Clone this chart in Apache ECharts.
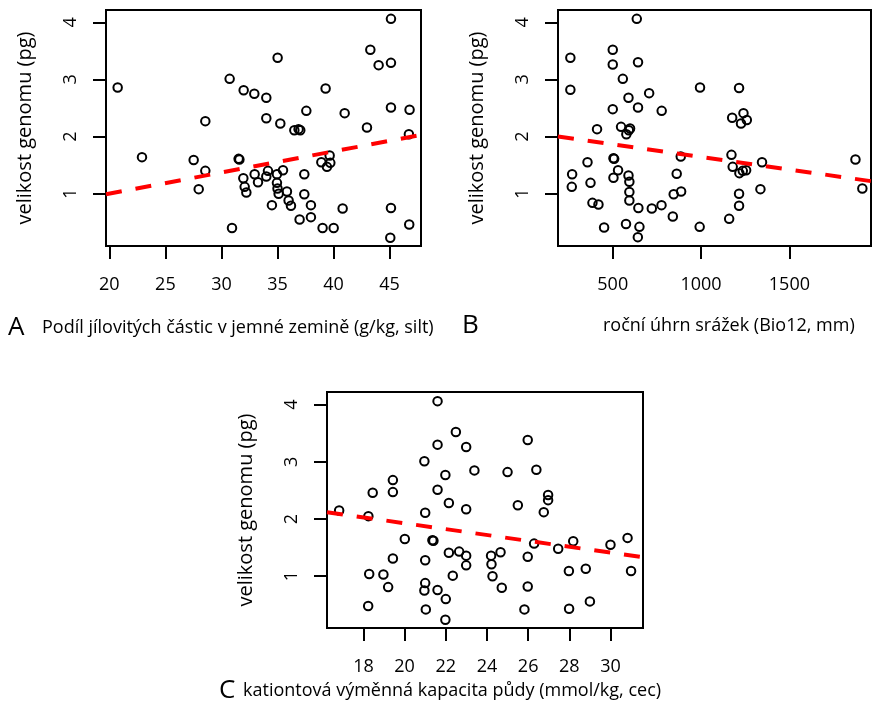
<!DOCTYPE html>
<html>
<head>
<meta charset="utf-8">
<script src="https://cdn.jsdelivr.net/npm/echarts@6/dist/echarts.min.js"></script>
<style>
  html, body { margin: 0; padding: 0; background: #fff; }
  #chart { width: 872px; height: 715px; }
</style>
</head>
<body>
<div id="chart"></div>
<script>
// Genome size (pg) against three environmental predictors.
const genomeTicks = [1, 2, 3, 4];

// A: clay particle share in fine soil (g/kg, silt)
const clayTicks = [20, 25, 30, 35, 40, 45];
const clayX = [20.74, 22.91, 27.52, 27.97, 28.56, 28.56, 30.73, 30.94, 31.53, 31.60,
  31.98, 31.95, 32.07, 32.22, 32.93, 32.96, 33.26, 34.00, 34.00, 34.00,
  34.15, 34.50, 35.01, 34.95, 34.95, 35.00, 35.10, 35.25, 35.49, 35.84,
  35.99, 36.20, 36.50, 36.88, 37.03, 36.97, 37.39, 37.39, 37.57, 37.98,
  37.98, 39.02, 38.91, 39.29, 39.41, 39.65, 39.71, 40.01, 40.81, 40.99,
  42.98, 43.28, 44.02, 45.12, 45.12, 45.12, 45.12, 45.06, 46.78, 46.72, 46.75];
const clayY = [2.86, 1.64, 1.59, 1.08, 1.40, 2.27, 3.01, 0.40, 1.61, 1.60,
  2.81, 1.27, 1.12, 1.02, 2.75, 1.34, 1.20, 2.68, 2.32, 1.30,
  1.40, 0.80, 3.38, 1.34, 1.19, 1.09, 1.00, 2.23, 1.41, 1.04,
  0.88, 0.79, 2.11, 2.13, 2.11, 0.55, 1.34, 0.99, 2.45, 0.80,
  0.59, 0.40, 1.55, 2.84, 1.47, 1.67, 1.54, 0.40, 0.74, 2.41,
  2.16, 3.52, 3.25, 4.06, 3.29, 2.51, 0.75, 0.23, 2.47, 2.04, 0.46];
const clayFit = { intercept: 0.261, slope: 0.037 };

// B: annual precipitation (Bio12, mm)
const precipTicks = [500, 1000, 1500];
const precipX = [260, 260, 270, 268, 357, 374, 385, 419, 411, 451,
  500, 500, 500, 504, 508, 504, 530, 557, 547, 575,
  577, 589, 591, 598, 589, 594, 594, 594, 636, 643,
  643, 645, 651, 642, 706, 721, 776, 777, 840, 845,
  862, 885, 887, 994, 992, 1159, 1172, 1179, 1176, 1215,
  1215, 1215, 1217, 1226, 1240, 1236, 1259, 1255, 1345, 1336,
  1874, 1913];
const precipY = [3.38, 2.82, 1.34, 1.12, 1.55, 1.19, 0.84, 0.81, 2.13, 0.41,
  3.52, 3.26, 2.48, 1.62, 1.61, 1.28, 1.41, 3.01, 2.17, 0.47,
  2.04, 2.68, 2.11, 2.14, 1.32, 1.21, 1.03, 0.88, 4.06, 3.30,
  2.51, 0.75, 0.42, 0.24, 2.76, 0.74, 0.80, 2.45, 0.60, 0.99,
  1.35, 1.65, 1.04, 2.86, 0.42, 0.56, 1.68, 1.47, 2.33, 2.85,
  1.00, 0.79, 1.36, 2.23, 2.41, 1.40, 2.29, 1.41, 1.55, 1.08,
  1.60, 1.09];
const precipFit = { intercept: 2.085, slope: -0.000441 };

// C: cation exchange capacity of soil (mmol/kg, cec)
const cecTicks = [18, 20, 22, 24, 26, 28, 30];
const cecX = [16.82, 18.24, 18.28, 18.23, 18.45, 18.97, 19.20, 19.43, 19.43, 19.43,
  20.01, 20.96, 21.00, 21.00, 21.00, 20.96, 21.03, 21.35, 21.40, 21.60,
  21.60, 21.60, 21.60, 21.98, 22.15, 22.15, 22.00, 21.98, 22.34, 22.49,
  22.65, 22.99, 22.99, 22.99, 22.99, 23.39, 24.20, 24.22, 24.27, 24.66,
  24.72, 25.00, 25.50, 25.82, 25.98, 25.98, 25.98, 26.29, 26.40, 26.76,
  26.97, 26.97, 27.46, 27.98, 27.99, 28.19, 28.80, 29.00, 30.00, 30.83, 31.00];
const cecY = [2.15, 2.05, 1.04, 0.48, 2.46, 1.03, 0.81, 2.68, 2.47, 1.31,
  1.65, 3.01, 2.11, 1.28, 0.88, 0.75, 0.42, 1.63, 1.62, 4.06,
  3.30, 2.51, 0.76, 2.77, 2.28, 1.41, 0.60, 0.24, 1.01, 3.52,
  1.43, 3.26, 2.17, 1.36, 1.19, 2.85, 1.36, 1.21, 1.00, 1.42,
  0.80, 2.82, 2.24, 0.42, 3.38, 1.34, 0.82, 1.57, 2.86, 2.12,
  2.42, 2.33, 1.48, 1.09, 0.43, 1.61, 1.13, 0.56, 1.55, 1.67, 1.09];
const cecFit = { intercept: 2.954, slope: -0.0514 };

const FONT = '"Open Sans", "Noto Sans", sans-serif';
const yName = 'velikost genomu (pg)';

const panels = [
  { grid: { left: 106, top: 10, width: 315, height: 236 }, xMin: 19.7, xMax: 47.8, yMin: 0.085, yMax: 4.215,
    xTicks: clayTicks, xs: clayX, ys: clayY, fit: clayFit },
  { grid: { left: 558, top: 10, width: 313, height: 236 }, xMin: 190, xMax: 1962, yMin: 0.085, yMax: 4.215,
    xTicks: precipTicks, xs: precipX, ys: precipY, fit: precipFit },
  { grid: { left: 327, top: 392, width: 316, height: 236 }, xMin: 16.23, xMax: 31.58, yMin: 0.095, yMax: 4.22,
    xTicks: cecTicks, xs: cecX, ys: cecY, fit: cecFit }
];

const grids = [], xAxes = [], yAxes = [], series = [];
panels.forEach((p, i) => {
  grids.push(Object.assign({ show: true, borderColor: '#000', borderWidth: 2, backgroundColor: 'transparent' }, p.grid));
  xAxes.push({
    type: 'value', gridIndex: i, min: p.xMin, max: p.xMax,
    splitLine: { show: false },
    axisLine: { show: false },
    axisTick: { show: true, inside: false, length: 13, lineStyle: { color: '#000', width: 2 }, customValues: p.xTicks },
    axisLabel: { show: true, margin: 30, fontSize: 18, color: '#000', fontFamily: FONT, customValues: p.xTicks,
      formatter: v => String(v) }
  });
  yAxes.push({
    type: 'value', gridIndex: i, min: p.yMin, max: p.yMax,
    name: yName, nameLocation: 'middle', nameGap: 71, nameRotate: 90,
    nameTextStyle: { fontSize: 20, color: '#000', fontFamily: FONT },
    splitLine: { show: false },
    axisLine: { show: false },
    axisTick: { show: true, inside: false, length: 13, lineStyle: { color: '#000', width: 2 }, customValues: genomeTicks },
    axisLabel: { show: true, rotate: 90, margin: 26, fontSize: 18, color: '#000', fontFamily: FONT, customValues: genomeTicks,
      formatter: v => String(v) }
  });
  series.push({
    type: 'scatter', xAxisIndex: i, yAxisIndex: i,
    data: p.xs.map((x, k) => [x, p.ys[k]]),
    symbol: 'circle', symbolSize: 8.5,
    itemStyle: { color: 'rgba(0,0,0,0)', borderColor: '#000', borderWidth: 2, opacity: 1 },
    emphasis: { disabled: true },
    silent: true
  });
  series.push({
    type: 'line', xAxisIndex: i, yAxisIndex: i,
    data: [[p.xMin, p.fit.intercept + p.fit.slope * p.xMin], [p.xMax, p.fit.intercept + p.fit.slope * p.xMax]],
    showSymbol: false, symbol: 'none', clip: true, silent: true, z: 5,
    lineStyle: { color: '#ff0000', width: 4, type: [16, 14] }
  });
});

// Panel captions under each plot
const captions = [
  { letter: 'A', lx: 8, text: 'Podíl jílovitých částic v jemné zemině (g/kg, silt)', tx: 42, y: 328 },
  { letter: 'B', lx: 462, text: 'roční úhrn srážek (Bio12, mm)', tx: 603, y: 326 },
  { letter: 'C', lx: 219, text: 'kationtová výměnná kapacita půdy (mmol/kg, cec)', tx: 243, y: 691 }
];
const graphic = [];
captions.forEach(c => {
  graphic.push({ type: 'text', x: c.lx, y: c.y, style: { text: c.letter, font: '26px ' + FONT, fill: '#000', verticalAlign: 'middle', align: 'left' } });
  graphic.push({ type: 'text', x: c.tx, y: c.y, style: { text: c.text, font: '18px ' + FONT, fill: '#000', verticalAlign: 'middle', align: 'left' } });
});

const chart = echarts.init(document.getElementById('chart'), null, { renderer: 'canvas' });
chart.setOption({
  backgroundColor: '#fff',
  animation: false,
  grid: grids,
  xAxis: xAxes,
  yAxis: yAxes,
  series: series,
  graphic: graphic
});
</script>
</body>
</html>
